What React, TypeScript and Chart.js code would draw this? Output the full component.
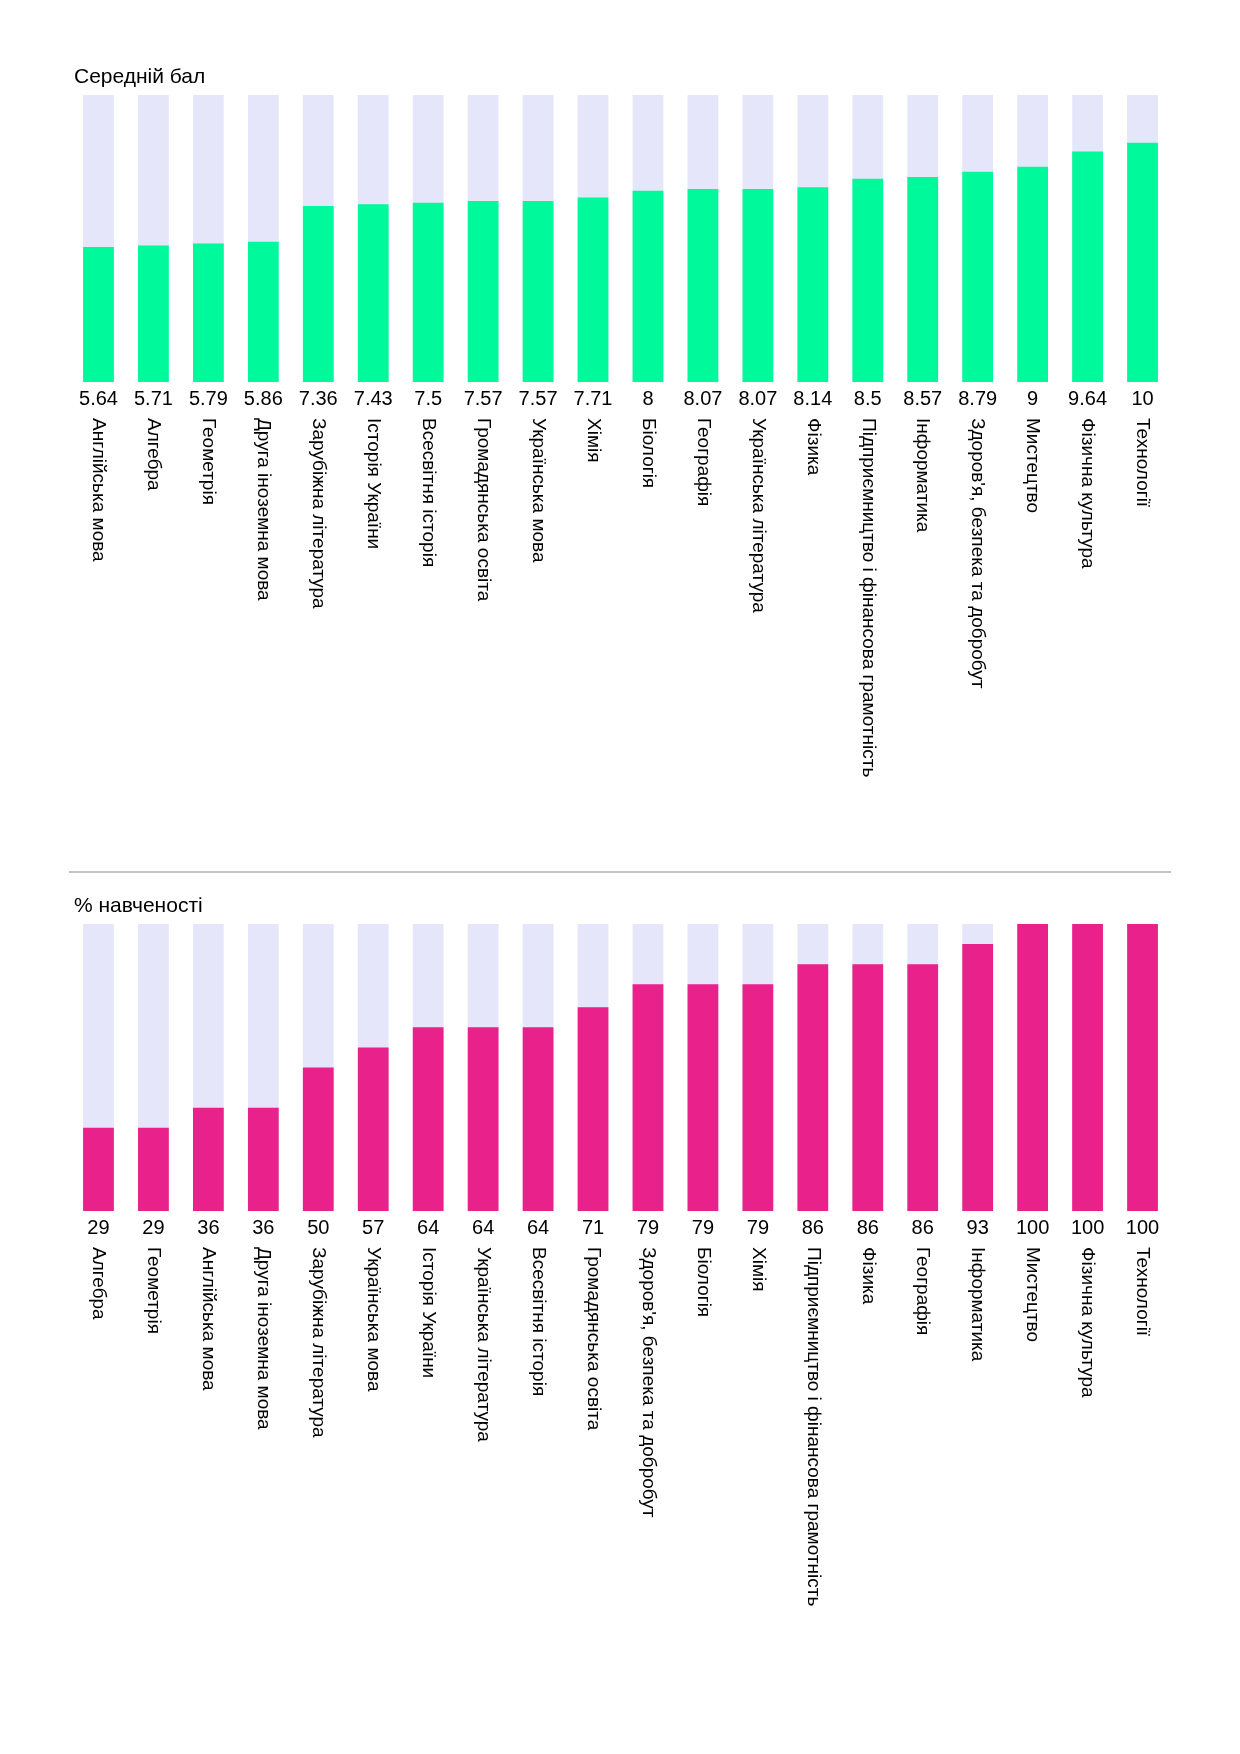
import React, { useEffect, useRef } from "react";
import { Chart, registerables } from "chart.js";
Chart.register(...registerables);

const cats1 = ["Англійська мова","Алгебра","Геометрія","Друга іноземна мова","Зарубіжна література","Історія України","Всесвітня історія","Громадянська освіта","Українська мова","Хімія","Біологія","Географія","Українська література","Фізика","Підприємництво і фінансова грамотність","Інформатика","Здоров'я, безпека та добробут","Мистецтво","Фізична культура","Технології"];
const vals1 = [5.64,5.71,5.79,5.86,7.36,7.43,7.5,7.57,7.57,7.71,8,8.07,8.07,8.14,8.5,8.57,8.79,9,9.64,10];
const max1 = 12;
const cats2 = ["Алгебра","Геометрія","Англійська мова","Друга іноземна мова","Зарубіжна література","Українська мова","Історія України","Українська література","Всесвітня історія","Громадянська освіта","Здоров'я, безпека та добробут","Біологія","Хімія","Підприємництво і фінансова грамотність","Фізика","Географія","Інформатика","Мистецтво","Фізична культура","Технології"];
const vals2 = [29,29,36,36,50,57,64,64,64,71,79,79,79,86,86,86,93,100,100,100];
const max2 = 100;

const FONT = "'Liberation Sans', Arial, sans-serif";

function BarChart({ cats, vals, max, color, title, height, top }: any) {
  const ref = useRef<HTMLCanvasElement>(null);
  useEffect(() => {
    const labelsPlugin = {
      id: "lbl",
      afterDraw(chart: any) {
        const ctx = chart.ctx;
        const xs = chart.scales.x;
        const area = chart.chartArea;
        ctx.save();
        ctx.fillStyle = "#000";
        ctx.font = `21px ${FONT}`;
        ctx.textBaseline = "alphabetic";
        ctx.textAlign = "left";
        ctx.fillText(title, 74, area.top - 12);
        ctx.font = `20px ${FONT}`;
        ctx.textAlign = "center";
        ctx.textBaseline = "middle";
        vals.forEach((v: number, i: number) => {
          ctx.fillText(String(v), xs.getPixelForValue(i), area.bottom + 17);
        });
        ctx.font = `19px ${FONT}`;
        cats.forEach((c: string, i: number) => {
          ctx.save();
          ctx.translate(xs.getPixelForValue(i), area.bottom + 36);
          ctx.rotate(Math.PI / 2);
          ctx.textAlign = "left";
          ctx.textBaseline = "middle";
          ctx.fillText(c, 0, 0);
          ctx.restore();
        });
        ctx.restore();
      },
    };
    const chart = new Chart(ref.current!, {
      type: "bar",
      data: {
        labels: cats,
        datasets: [
          { data: vals, backgroundColor: color, order: 0, barPercentage: 0.56, categoryPercentage: 1 },
          { data: vals.map(() => max), backgroundColor: "#e6e6fa", order: 1, barPercentage: 0.56, categoryPercentage: 1 },
        ],
      },
      options: {
        responsive: false,
        devicePixelRatio: 1,
        animation: false,
        layout: { padding: { left: 71, right: 70, top: 95, bottom: height - 382 } },
        plugins: { legend: { display: false }, tooltip: { enabled: false } },
        scales: {
          x: { display: false, stacked: true },
          y: { display: false, stacked: false, min: 0, max },
        },
      },
      plugins: [labelsPlugin],
    });
    return () => chart.destroy();
  }, []);
  return <canvas ref={ref} width={1240} height={height} style={{ position: "absolute", left: 0, top }} />;
}

export default function App() {
  return (
    <div style={{ position: "absolute", left: 0, top: 0, width: 1240, height: 1754, background: "#fff" }}>
      <BarChart cats={cats1} vals={vals1} max={max1} color="#00f99b" title="Середній бал" height={860} top={0} />
      <div style={{ position: "absolute", left: 69, top: 871, width: 1102, height: 2, background: "#c4c4c4" }} />
      <BarChart cats={cats2} vals={vals2} max={max2} color="#e9218a" title="% навченості" height={880} top={829} />
    </div>
  );
}
